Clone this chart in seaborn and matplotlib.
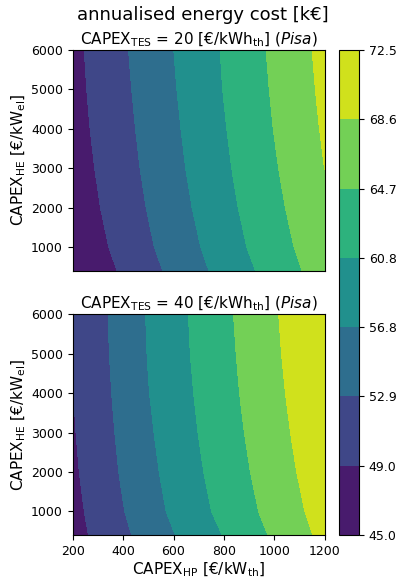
import numpy as np
import matplotlib
matplotlib.use("Agg")
import matplotlib.pyplot as plt
import seaborn as sns

# ---- data ----
capex_hp = [200, 300, 400, 500, 600, 700, 800, 900, 1000, 1100, 1200]   # €/kW_th
capex_he = [400, 1000, 2000, 3000, 4000, 5000, 6000]                     # €/kW_el

cost_tes20_he400  = [45.04, 47.32, 49.49, 51.67, 53.82, 55.97, 58.10, 60.22, 62.34, 64.47, 66.59]
cost_tes20_he1000 = [45.87, 48.04, 50.21, 52.39, 54.53, 56.66, 58.81, 60.95, 63.05, 65.14, 67.24]
cost_tes20_he2000 = [46.58, 48.75, 50.92, 53.09, 55.24, 57.40, 59.55, 61.67, 63.76, 65.86, 67.96]
cost_tes20_he3000 = [47.07, 49.25, 51.43, 53.62, 55.79, 57.95, 60.10, 62.21, 64.32, 66.47, 68.63]
cost_tes20_he4000 = [47.47, 49.65, 51.83, 54.01, 56.19, 58.36, 60.51, 62.63, 64.77, 66.91, 69.06]
cost_tes20_he5000 = [47.75, 49.95, 52.15, 54.35, 56.54, 58.71, 60.86, 62.98, 65.11, 67.26, 69.41]
cost_tes20_he6000 = [47.94, 50.18, 52.43, 54.62, 56.81, 58.94, 61.07, 63.23, 65.39, 67.54, 69.68]

cost_tes40_he400  = [47.54, 49.84, 52.14, 54.41, 56.67, 58.79, 60.90, 63.07, 65.25, 67.46, 69.67]
cost_tes40_he1000 = [47.84, 50.30, 52.75, 55.18, 57.52, 59.67, 61.80, 63.89, 66.01, 68.16, 70.31]
cost_tes40_he2000 = [48.32, 50.83, 53.34, 55.84, 58.14, 60.33, 62.46, 64.57, 66.71, 68.85, 70.99]
cost_tes40_he3000 = [48.64, 51.19, 53.75, 56.32, 58.60, 60.81, 62.95, 65.09, 67.24, 69.38, 71.53]
cost_tes40_he4000 = [48.89, 51.48, 54.09, 56.72, 58.98, 61.20, 63.35, 65.50, 67.66, 69.82, 71.98]
cost_tes40_he5000 = [49.05, 51.70, 54.34, 56.97, 59.26, 61.50, 63.63, 65.80, 67.98, 70.19, 72.39]
cost_tes40_he6000 = [49.20, 51.84, 54.49, 57.11, 59.42, 61.67, 63.85, 66.04, 68.23, 70.42, 72.54]

levels = [45.04, 48.97, 52.90, 56.83, 60.75, 64.68, 68.61, 72.54]
tes_values = [20, 40]
location = "Pisa"

cost_tes20 = np.array([cost_tes20_he400, cost_tes20_he1000, cost_tes20_he2000, cost_tes20_he3000,
                       cost_tes20_he4000, cost_tes20_he5000, cost_tes20_he6000])
cost_tes40 = np.array([cost_tes40_he400, cost_tes40_he1000, cost_tes40_he2000, cost_tes40_he3000,
                       cost_tes40_he4000, cost_tes40_he5000, cost_tes40_he6000])

# ---- style ----
sns.set_style("ticks", {"axes.edgecolor": "black", "xtick.color": "black",
                        "ytick.color": "black", "text.color": "black",
                        "axes.labelcolor": "black"})
plt.rcParams["font.family"] = ["DejaVu Sans"]
plt.rcParams["mathtext.fontset"] = "dejavusans"

fig = plt.figure(figsize=(3.96, 5.82), dpi=100)
ax1 = fig.add_axes([0.1836, 0.5349, 0.6364, 0.3792])
ax2 = fig.add_axes([0.1836, 0.0808, 0.6364, 0.3792])
cax = fig.add_axes([0.857, 0.0808, 0.0497, 0.8333])

X, Y = np.meshgrid(capex_hp, capex_he)
cs = None
for ax, Z, tes in zip([ax1, ax2], [cost_tes20, cost_tes40], tes_values):
    cs = ax.contourf(X, Y, Z, levels=levels, cmap="viridis")
    ax.set_title(r"CAPEX$_{\mathrm{TES}}$ = %d [€/kWh$_{\mathrm{th}}$] ($\it{%s}$)" % (tes, location),
                 fontsize=11, pad=4)
    ax.set_ylabel(r"CAPEX$_{\mathrm{HE}}$ [€/kW$_{\mathrm{el}}$]", fontsize=11, labelpad=2)
    ax.set_xlim(200, 1200)
    ax.set_ylim(400, 6000)
    ax.set_yticks([1000, 2000, 3000, 4000, 5000, 6000])
    ax.tick_params(labelsize=9)

ax1.set_xticks([])
ax2.set_xticks([200, 400, 600, 800, 1000, 1200])
ax2.set_xlabel(r"CAPEX$_{\mathrm{HP}}$ [€/kW$_{\mathrm{th}}$]", fontsize=11, labelpad=2)

cb = fig.colorbar(cs, cax=cax)
cb.set_ticks(levels)
cb.set_ticklabels(["%.1f" % v for v in levels])
cb.ax.tick_params(labelsize=9)

fig.suptitle("annualised energy cost [k€]", fontsize=13, x=0.513, y=0.99)
sns.despine(ax=ax1, top=False, right=False)
sns.despine(ax=ax2, top=False, right=False)

fig.savefig("out.png", dpi=100)
